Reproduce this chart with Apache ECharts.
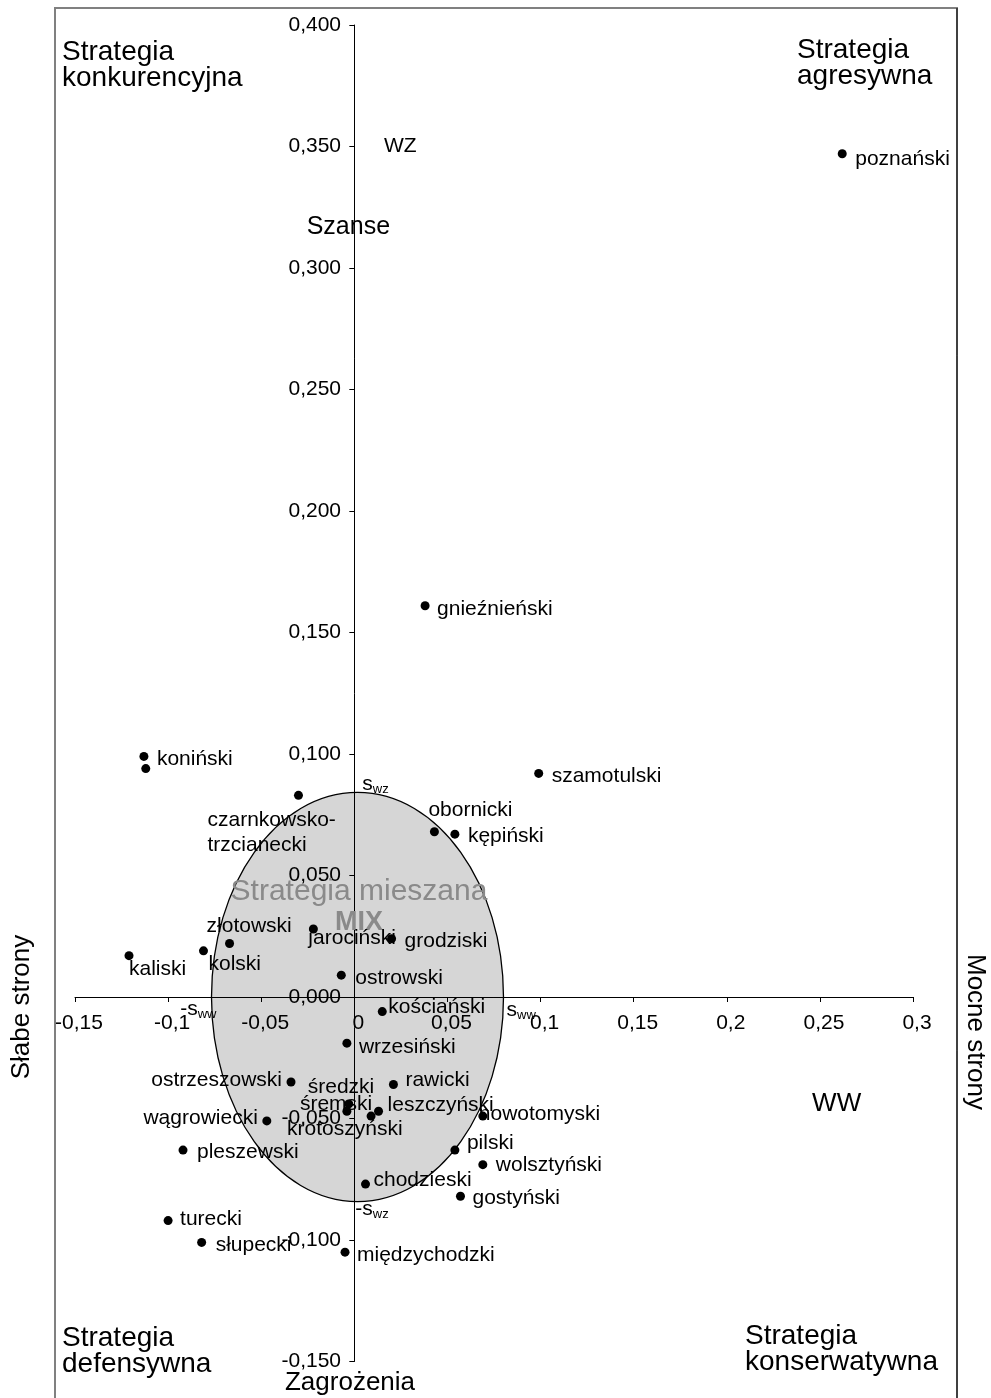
<!DOCTYPE html>
<html>
<head>
<meta charset="utf-8">
<script src="https://cdn.jsdelivr.net/npm/echarts@6/dist/echarts.min.js"></script>
<style>
html, body { margin: 0; padding: 0; background: #fff; }
#container { width: 991px; height: 1398px; }
</style>
</head>
<body>
<div id="container"></div>
<script>
// powiaty: x = WW (mocne/slabe strony), y = WZ (szanse/zagrozenia)
var powiaty = ['poznański', 'gnieźnieński', 'szamotulski', 'koniński', '', 'czarnkowsko-trzcianecki',
    'obornicki', 'kępiński', 'złotowski', 'jarociński', 'grodziski', 'kaliski', 'kolski', 'ostrowski',
    'kościański', 'wrzesiński', 'ostrzeszowski', 'rawicki', 'średzki', 'śremski', 'krotoszyński',
    'leszczyński', 'nowotomyski', 'wągrowiecki', 'pilski', 'pleszewski', 'wolsztyński', 'chodzieski',
    'gostyński', 'turecki', 'słupecki', 'międzychodzki'];
var ww = [0.262, 0.038, 0.099, -0.113, -0.112, -0.030,
    0.043, 0.054, -0.067, -0.022, 0.020, -0.121, -0.081, -0.007,
    0.015, -0.004, -0.034, 0.021, -0.003, -0.004, 0.009,
    0.013, 0.069, -0.047, 0.054, -0.092, 0.069, 0.006,
    0.057, -0.100, -0.082, -0.005];
var wz = [0.347, 0.161, 0.092, 0.099, 0.094, 0.083,
    0.068, 0.067, 0.022, 0.028, 0.024, 0.017, 0.019, 0.009,
    -0.006, -0.019, -0.035, -0.036, -0.044, -0.047, -0.049,
    -0.047, -0.049, -0.051, -0.063, -0.063, -0.069, -0.077,
    -0.082, -0.092, -0.101, -0.105];
// elipsa strategii mieszanej: srodek i odchylenia standardowe
var mixCenter = [0.0017, 0];
var sww = 0.0784;
var swz = 0.0842;

var xTickLabels = ['-0,15', '-0,1', '-0,05', '0', '0,05', '0,1', '0,15', '0,2', '0,25', '0,3'];
var yTickLabels = ['-0,150', '-0,100', '-0,050', '0,000', '0,050', '0,100', '0,150', '0,200',
    '0,250', '0,300', '0,350', '0,400'];

// label placement relative to the dot centre: [dx, dy, align]
var labelPlace = {
    'poznański': [13, 5, 'left'], 'gnieźnieński': [12, 3, 'left'], 'szamotulski': [13, 3, 'left'],
    'koniński': [13, 3, 'left'], 'czarnkowsko-trzcianecki': [-91, 37, 'left'],
    'obornicki': [-6, -22, 'left'], 'kępiński': [13, 2, 'left'], 'złotowski': [-23, -17, 'left'],
    'jarociński': [-5, 9, 'left'], 'grodziski': [13, 3, 'left'], 'kaliski': [0, 14, 'left'],
    'kolski': [5, 13, 'left'], 'ostrowski': [14, 3, 'left'], 'kościański': [6, -4, 'left'],
    'wrzesiński': [12, 4, 'left'], 'ostrzeszowski': [-9, -2, 'right'], 'rawicki': [12, -4, 'left'],
    'średzki': [-41, -17, 'left'], 'śremski': [-47, -7, 'left'], 'krotoszyński': [-84, 13, 'left'],
    'leszczyński': [9, -6, 'left'], 'nowotomyski': [-4, -2, 'left'], 'wągrowiecki': [-9, -3, 'right'],
    'pilski': [12, -7, 'left'], 'pleszewski': [14, 2, 'left'], 'wolsztyński': [13, 1, 'left'],
    'chodzieski': [8, -4, 'left'], 'gostyński': [12, 2, 'left'], 'turecki': [12, -1, 'left'],
    'słupecki': [14, 3, 'left'], 'międzychodzki': [12, 3, 'left']
};

var FONT = '"Liberation Sans", Arial, sans-serif';
var DOT = 9;

var points = powiaty.map(function (name, i) {
    var p = labelPlace[name];
    var item = { name: name, value: [ww[i], wz[i]] };
    if (p) {
        item.label = {
            show: true,
            position: [p[0] + DOT / 2, p[1] + DOT / 2],
            align: p[2],
            verticalAlign: 'middle'
        };
    } else {
        item.label = { show: false };
    }
    return item;
});

var subRich = {
    s: { fontSize: 21, fontFamily: FONT, color: '#000' },
    w: { fontSize: 13, fontFamily: FONT, color: '#000', padding: [10, 0, 0, 0] }
};

function note(text, x, y, dx, dy, align, extra) {
    var lab = {
        show: true,
        formatter: text,
        position: [dx, dy],
        align: align,
        verticalAlign: 'middle',
        fontFamily: FONT,
        color: '#000'
    };
    for (var k in extra) lab[k] = extra[k];
    return { value: [x, y], label: lab };
}

var notes = [
    note('{s|s}{w|wz}', 0, swz, 8, -8, 'left', { rich: subRich }),
    note('{s|s}{w|ww}', mixCenter[0] + sww, 0, 3, 13, 'left', { rich: subRich }),
    note('{s|-s}{w|ww}', mixCenter[0] - sww, 0, 5, 12, 'right', { rich: subRich }),
    note('{s|-s}{w|wz}', 0, -swz, 1, 8, 'left', { rich: subRich }),
    note('Strategia mieszana', 0.0025, 0.0435, 0, 0, 'center', { fontSize: 30, color: '#8a8a8a' }),
    note('MIX', 0.0025, 0.0305, 0, 0, 'center', { fontSize: 27, fontWeight: 'bold', color: '#8a8a8a' }),
    note('WZ', 0.0247, 0.350, 0, 0, 'center', { fontSize: 21 }),
    note('Szanse', -0.0032, 0.317, 0, 0, 'center', { fontSize: 25 }),
    note('WW', 0.259, -0.044, 0, 0, 'center', { fontSize: 26 })
];

var myChart = echarts.init(document.getElementById('container'));

var option = {
    backgroundColor: '#fff',
    animation: false,
    textStyle: { fontFamily: FONT, color: '#000' },
    grid: { left: 75, right: 78, top: 25, bottom: 36.5 },
    xAxis: {
        type: 'value',
        min: -0.15,
        max: 0.3,
        interval: 0.05,
        axisLine: { onZero: true, lineStyle: { color: '#000', width: 1 } },
        axisTick: { show: true, length: 5, lineStyle: { color: '#000' } },
        axisLabel: {
            color: '#000', fontSize: 21, margin: -349, fontFamily: FONT,
            padding: [0, 0, 0, 8],
            formatter: function (v, i) { return xTickLabels[i]; }
        },
        splitLine: { show: false }
    },
    yAxis: {
        type: 'value',
        min: -0.15,
        max: 0.4,
        interval: 0.05,
        axisLine: { onZero: true, lineStyle: { color: '#000', width: 1 } },
        axisTick: { show: true, length: 5, lineStyle: { color: '#000' } },
        axisLabel: {
            color: '#000', fontSize: 21, margin: -266, fontFamily: FONT,
            padding: [4, 0, 0, 0],
            formatter: function (v, i) { return yTickLabels[i]; }
        },
        splitLine: { show: false }
    },
    graphic: [
        { type: 'rect', shape: { x: 55, y: 8, width: 902, height: 1420 },
          style: { fill: 'none', stroke: '#808080', lineWidth: 2 }, z: -10 },
        { type: 'line', shape: { x1: 957, y1: 8, x2: 957, y2: 1398 },
          style: { stroke: '#000', lineWidth: 1 }, z: -9 },
        { type: 'text', x: 62, y: 65,
          style: { text: 'Strategia\nkonkurencyjna', font: '28px ' + FONT, fill: '#000',
                   lineHeight: 26, align: 'left', verticalAlign: 'middle' } },
        { type: 'text', x: 797, y: 63,
          style: { text: 'Strategia\nagresywna', font: '28px ' + FONT, fill: '#000',
                   lineHeight: 26, align: 'left', verticalAlign: 'middle' } },
        { type: 'text', x: 62, y: 1351,
          style: { text: 'Strategia\ndefensywna', font: '28px ' + FONT, fill: '#000',
                   lineHeight: 26, align: 'left', verticalAlign: 'middle' } },
        { type: 'text', x: 745, y: 1349,
          style: { text: 'Strategia\nkonserwatywna', font: '28px ' + FONT, fill: '#000',
                   lineHeight: 26, align: 'left', verticalAlign: 'middle' } },
        { type: 'text', x: 350, y: 1383,
          style: { text: 'Zagrożenia', font: '26px ' + FONT, fill: '#000',
                   align: 'center', verticalAlign: 'middle' } },
        { type: 'text', x: 22, y: 1007, rotation: Math.PI / 2,
          style: { text: 'Słabe strony', font: '26px ' + FONT, fill: '#000',
                   align: 'center', verticalAlign: 'middle' } },
        { type: 'text', x: 975, y: 1032, rotation: -Math.PI / 2,
          style: { text: 'Mocne strony', font: '26px ' + FONT, fill: '#000',
                   align: 'center', verticalAlign: 'middle' } }
    ],
    series: [
        {
            name: 'MIX',
            type: 'custom',
            z: -1,
            silent: true,
            data: [[mixCenter[0], mixCenter[1], sww, swz]],
            renderItem: function (params, api) {
                var c = api.coord([api.value(0), api.value(1)]);
                var s = api.size([api.value(2), api.value(3)]);
                return {
                    type: 'ellipse',
                    shape: { cx: c[0], cy: c[1], rx: s[0], ry: s[1] },
                    style: { fill: '#d6d6d6', stroke: '#000', lineWidth: 1.3 }
                };
            }
        },
        {
            name: 'powiaty',
            type: 'scatter',
            symbol: 'circle',
            symbolSize: DOT,
            itemStyle: { color: '#000', opacity: 1 },
            label: {
                show: true,
                formatter: function (p) { return p.name.replace('-', '-\n'); },
                fontSize: 21,
                lineHeight: 25,
                fontFamily: FONT,
                color: '#000',
                opacity: 1
            },
            labelLayout: { hideOverlap: false },
            data: points
        },
        {
            name: 'opisy',
            type: 'scatter',
            symbolSize: 0,
            silent: true,
            z: 1,
            itemStyle: { opacity: 1 },
            data: notes
        }
    ]
};

myChart.setOption(option);
</script>
</body>
</html>
